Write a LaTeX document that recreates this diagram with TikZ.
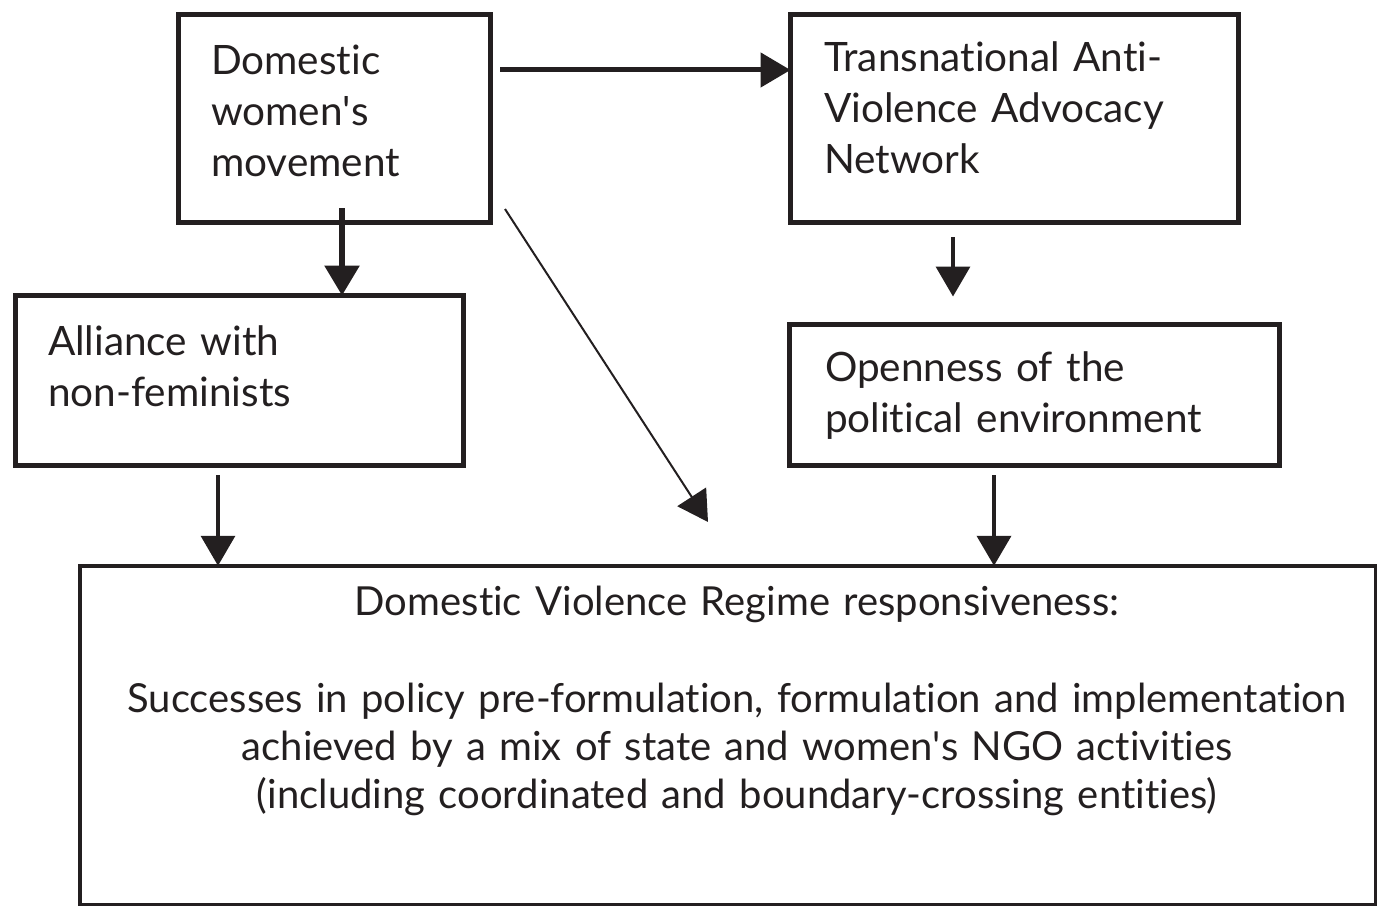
\documentclass[tikz,border=0pt]{standalone}
\usepackage{fontspec}
\setmainfont[Ligatures={TeX,NoCommon}]{Lato}
\usetikzlibrary{arrows.meta,calc}
\definecolor{ink}{HTML}{231F20}
\newcommand{\apo}{\textquotesingle}
\begin{document}
\begin{tikzpicture}[x=1pt,y=-1pt,
  box/.style={draw=ink,line width=5pt,inner sep=0pt,outer sep=0pt,rectangle},
  txt/.style={anchor=base west,inner sep=0pt,outer sep=0pt,align=left,text=ink,
    font=\fontsize{40.5}{51}\selectfont},
  ctxt/.style={anchor=base,inner sep=0pt,outer sep=0pt,align=center,text=ink,
    font=\fontsize{40}{48}\selectfont},
  tip/.style={-{Triangle[length=30pt,width=34pt]}},
  thickarr/.style={tip,draw=ink,fill=ink,line width=#1},
  thickarr/.default=4pt
]
\useasboundingbox (0,0) rectangle (1377,907);

% boxes
\node[box,minimum width=312pt,minimum height=208pt] (b1) at (334.5,118.5) {};
\node[box,minimum width=448pt,minimum height=208pt] (b2) at (1014.5,118.5) {};
\node[box,minimum width=448pt,minimum height=170pt] (b3) at (239.5,380.5) {};
\node[box,minimum width=490pt,minimum height=141pt] (b4) at (1034.5,395) {};
\node[box,line width=3.5pt,minimum width=1295.5pt,minimum height=338.5pt] (b5) at (727.5,735) {};

% texts
\node[txt,text width=280pt] (t1) at (211,75) {Domestic\\women\apo s\\movement};
\node[txt,text width=410pt] (t2) at (824,72) {Transnational Anti-\\Violence Advocacy\\Network};
\node[txt,text width=410pt] (t3) at (48,355) {Alliance with\\non-feminists};
\node[txt,text width=450pt] (t4) at (825,381) {Openness of the\\political environment};
\node[ctxt,text width=1280pt] (t5) at (737,615) {Domestic Violence Regime responsiveness:\\[49pt]
Successes in policy pre-formulation, formulation and implementation\\
achieved by a mix of state and women\apo s NGO activities\\
(including coordinated and boundary-crossing entities)};

% connector anchors
\coordinate (a1s) at ([shift={(9.5,55.5)}]b1.north east);
\coordinate (a2s) at ([shift={(7.5,-14.5)}]b1.south);
\coordinate (a3s) at ([shift={(14.5,-13.5)}]b1.south east);
\coordinate (a3e) at (708,522);
\coordinate (a4s) at ([shift={(-61.5,14.5)}]b2.south);
\coordinate (a4e) at ($(a4s |- b4.north)+(0,-28)$);
\coordinate (a5s) at ([shift={(-21.5,9.5)}]b3.south);
\coordinate (a6s) at ([shift={(-40.5,9.5)}]b4.south);

% connectors
\draw[thickarr=5pt] (a1s) -- (a1s -| b2.west);
\draw[thickarr=6pt] (a2s) -- (a2s |- b3.north);
\draw[thickarr=2pt] (a3s) -- (a3e);
\draw[thickarr=3.5pt] (a4s) -- (a4e);
\draw[thickarr=3.5pt] (a5s) -- (a5s |- b5.north);
\draw[thickarr=4pt] (a6s) -- (a6s |- b5.north);
\end{tikzpicture}
\end{document}
